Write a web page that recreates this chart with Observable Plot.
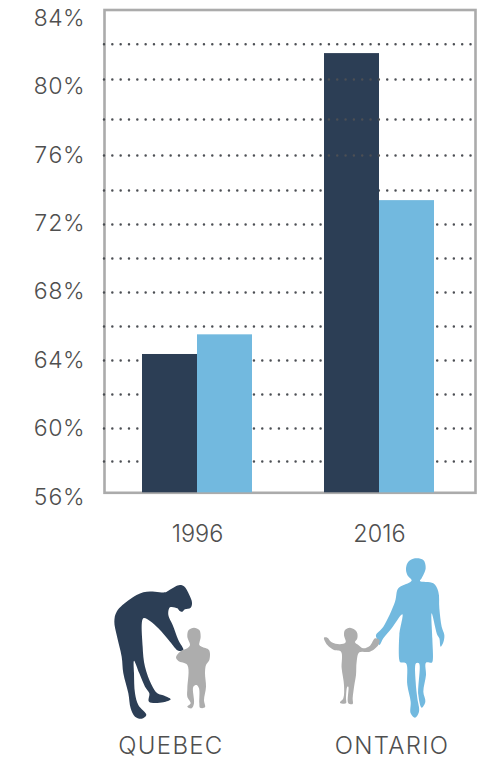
<!DOCTYPE html>
<html>
<head>
<meta charset="utf-8">
<script src="https://cdn.jsdelivr.net/npm/d3@7"></script>
<script src="https://cdn.jsdelivr.net/npm/@observablehq/plot@0.6"></script>
<style>
  html, body { margin: 0; padding: 0; background: #fff; }
  #chart { position: relative; width: 493px; height: 760px; overflow: hidden; font-family: Inter, sans-serif; }
  #chart > svg { display: block; }
  .figure { position: absolute; width: 130px; height: 165px; overflow: visible; }
  .region { position: absolute; top: 731px; width: 160px; text-align: center; font-size: 24px; font-weight: 300; line-height: 30px; color: #4f4f4f; letter-spacing: 1.3px; }
</style>
</head>
<body>
<div id="chart"></div>
<script>
const years = ["1996", "2016"];
const quebecShare = [64.35, 81.95];
const ontarioShare = [65.5, 73.35];
const gridBehindBars = [58.09, 60.02, 62.01, 64, 65.99, 67.98, 69.96, 71.95, 73.94];
const gridOverBars = [75.99, 78.09, 80.43, 82.5];
const tickValues = [56, 60, 64, 68, 72, 76, 80, 84];
const axisFloor = 56.26;
const axisCeiling = 84.5;

const navy = "#2c3e55";
const sky = "#72b9df";
const childGrey = "#adadad";
const inkGrey = "#4f4f4f";

const gridStyle = { stroke: "#4c4f54", strokeWidth: 2.5, strokeLinecap: "round", strokeDasharray: "0 8.33" };

const plot = Plot.plot({
  width: 493,
  height: 552,
  marginLeft: 104,
  marginRight: 18,
  marginTop: 9.5,
  marginBottom: 59.7,
  style: { fontFamily: "Inter, sans-serif", background: "transparent", overflow: "visible" },
  x: { domain: years, range: [142, 434.5], paddingInner: 0.3929, paddingOuter: 0, label: null },
  y: { domain: [axisFloor, axisCeiling], label: null },
  marks: [
    Plot.frame({ stroke: "#ababab", strokeWidth: 2.6 }),
    Plot.ruleY(gridBehindBars, gridStyle),
    Plot.barY(quebecShare, { x: years, y1: axisFloor, y2: d => d, fill: navy, insetRight: 55 }),
    Plot.barY(ontarioShare, { x: years, y1: axisFloor, y2: d => d, fill: sky, insetLeft: 55 }),
    Plot.ruleY(gridOverBars, gridStyle),
    Plot.axisY({ ticks: tickValues, tickFormat: d => d + "%", tickSize: 0, tickPadding: 20, fontSize: 23, fill: inkGrey, label: null, fontWeight: 300 }),
    Plot.axisX({ tickSize: 0, tickPadding: 33, fontSize: 23.5, fill: inkGrey, label: null, fontWeight: 300 })
  ]
});
const root = document.getElementById("chart");
root.appendChild(plot);

// Silhouette outlines of the adult and child figures under the chart
const quebecAdult = [[205,92],[225,80],[240,75],[252,79],[268,105],[276,128],[272,143],[255,148],[247,155],[238,152],[232,145],[210,142],[205,165],[218,195],[235,240],[250,270],[235,272],[210,245],[175,205],[150,183],[130,175],[128,260],[135,320],[155,375],[172,400],[195,408],[212,418],[190,427],[147,425],[148,400],[135,380],[118,340],[102,302],[102,340],[105,400],[115,435],[139,465],[125,476],[105,470],[92,445],[85,400],[70,340],[65,290],[50,225],[43,185],[50,155],[90,118],[130,97],[165,95],[195,97]];
const quebecChild = [[282,203],[298,210],[302,230],[298,255],[305,260],[327,270],[328,300],[318,315],[315,340],[318,380],[312,420],[315,442],[300,443],[298,430],[297,385],[290,375],[280,380],[282,430],[275,445],[262,440],[272,430],[262,410],[262,385],[262,315],[235,303],[228,292],[240,275],[262,265],[270,255],[262,230],[266,210]];
const ontarioAdult = [[285,10],[310,15],[317,40],[305,70],[300,78],[340,85],[355,110],[358,160],[365,215],[373,240],[370,262],[362,275],[358,250],[352,240],[335,175],[337,250],[338,318],[335,323],[318,323],[318,360],[310,410],[316,440],[305,458],[295,420],[297,325],[288,325],[287,380],[292,430],[297,470],[285,488],[272,475],[272,440],[262,390],[258,325],[241,322],[238,316],[238,240],[247,178],[215,220],[190,250],[178,270],[170,250],[168,240],[190,215],[225,140],[235,100],[270,82],[275,76],[262,60],[258,40],[265,20]];
const ontarioChild = [[90,218],[110,230],[112,250],[105,262],[115,270],[130,280],[150,272],[165,250],[178,255],[175,270],[150,290],[118,292],[110,320],[108,360],[103,390],[98,430],[98,447],[85,445],[85,395],[82,395],[78,430],[78,445],[60,443],[70,430],[72,390],[65,340],[63,290],[42,285],[22,270],[12,248],[22,248],[35,262],[60,268],[77,262],[72,240],[75,225]];

const outline = d3.line().curve(d3.curveCatmullRomClosed.alpha(0.5));

function addFigure(left, top, shapes) {
  const svg = d3.select(root).append("svg")
    .attr("class", "figure")
    .style("left", left + "px")
    .style("top", top + "px")
    .attr("viewBox", "0 0 390 495");
  for (const [points, fill] of shapes) svg.append("path").attr("d", outline(points)).attr("fill", fill);
}
addFigure(100, 560, [[quebecAdult, navy], [quebecChild, childGrey]]);
addFigure(320, 555, [[ontarioAdult, sky], [ontarioChild, childGrey]]);

for (const [name, center] of [["QUEBEC", 171], ["ONTARIO", 392]]) {
  d3.select(root).append("div").attr("class", "region").style("left", (center - 80) + "px").text(name);
}
</script>
</body>
</html>
